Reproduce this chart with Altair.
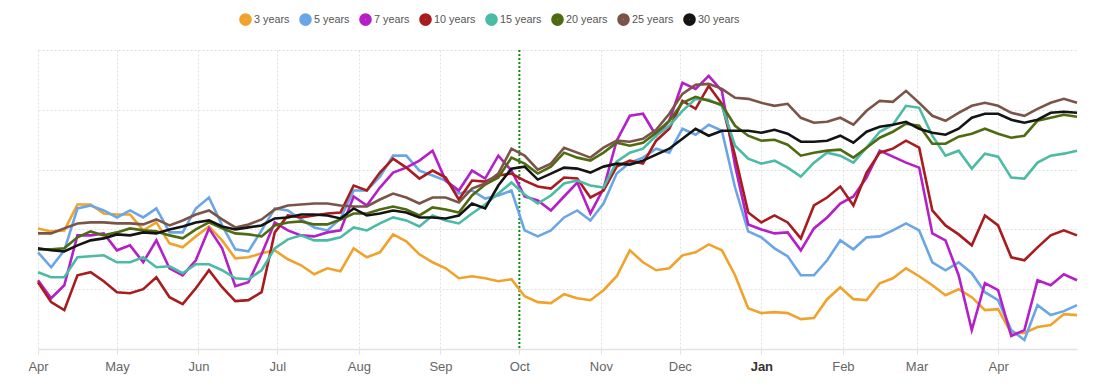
import altair as alt
import pandas as pd

# Sample dates (every 5 days from 1 Apr 2022)
dates = pd.date_range("2022-04-01", periods=80, freq="5D").strftime("%Y-%m-%d").tolist()

series_names = ["3 years", "5 years", "7 years", "10 years", "15 years", "20 years", "25 years", "30 years"]
series_colors = ["#F0A32C", "#6AA6E6", "#B41FC7", "#A81B1E", "#4BBBA5", "#4E6B12", "#7B5447", "#141414"]

month_ticks = [(2022, m) for m in range(4, 13)] + [(2023, m) for m in range(1, 5)]

y3 = [121,118,119,145,145,136,135,135,119,127, 106,102,113,123,109,91,92,96,99,90,
      84,75,81,78,101,92,97,115,108,95, 87,81,71,73,71,68,70,53,47,46,
      55,51,49,59,73,99,87,79,81,94, 97,105,99,74,41,36,37,36,30,31,
      50,62,50,49,66,71,81,73,64,54, 60,52,39,40,16,16,22,24,35,34]
y5 = [97,82,99,141,144,139,132,139,132,141, 117,117,141,152,124,100,98,119,141,139,
      130,122,119,131,159,159,173,194,194,179, 174,169,156,159,151,154,159,119,113,119,
      132,139,129,146,176,187,192,201,197,221, 215,225,219,162,118,112,101,93,74,74,
      89,109,100,112,113,119,126,119,87,79, 87,76,57,49,19,9,44,34,38,44]
y7 = [69,51,64,114,114,116,99,104,87,109, 81,74,89,121,101,63,67,95,127,119,
      114,113,117,119,153,144,162,177,182,189, 199,169,159,179,171,194,179,153,149,139,
      153,167,136,161,209,234,236,214,229,267, 261,274,259,184,125,120,116,117,99,121,
      132,146,153,172,199,193,187,182,116,109, 74,19,66,59,13,19,69,64,75,69]
y10 = [67,47,39,74,77,68,57,56,60,72, 52,45,61,79,62,48,49,57,117,134,
       132,134,136,137,164,159,177,191,182,171, 179,172,150,169,168,174,176,169,163,161,
       172,171,152,159,183,189,186,209,221,249, 241,264,246,194,137,127,134,127,111,144,
       152,163,144,177,197,201,209,202,139,124, 115,104,134,124,92,89,102,114,119,114]
y15 = [77,72,72,92,93,94,87,87,92,82, 83,76,85,85,79,71,70,79,101,110,
       114,109,109,112,122,119,126,132,129,123, 134,129,126,136,145,156,167,155,146,154,
       166,169,164,162,188,197,201,214,224,239, 251,250,244,204,191,186,189,182,173,187,
       197,194,187,202,218,225,244,242,214,194, 199,181,196,193,172,171,187,194,196,199]
y20 = [100,100,101,112,118,114,117,121,119,118, 114,111,120,127,121,116,115,113,124,127,
       128,125,125,130,136,136,140,143,140,134, 142,140,137,154,165,172,192,186,176,183,
       197,192,189,197,207,204,207,217,229,247, 253,249,245,224,214,209,210,205,194,197,
       199,200,192,202,212,218,226,224,206,206, 213,216,221,216,212,214,229,232,235,233]
y25 = [116,116,121,126,127,127,126,126,125,130, 124,129,135,139,130,122,125,130,140,144,
       145,146,146,144,143,143,150,156,152,146, 152,152,147,161,166,176,201,194,180,186,
       202,197,192,202,209,208,211,220,236,256, 265,266,261,252,251,247,244,246,232,227,
       228,232,225,239,249,248,259,247,234,229, 237,244,247,244,237,234,241,247,251,247]
y30 = [101,99,98,104,109,111,115,114,117,116, 120,123,127,129,123,120,122,124,131,132,
       135,135,134,131,141,134,136,139,137,132, 132,131,134,146,141,164,181,183,170,176,
       182,181,177,183,186,185,189,195,201,211, 221,214,219,219,219,217,220,216,208,208,
       209,214,207,218,223,225,228,221,217,215, 221,232,236,236,230,227,230,237,238,237]

marker_date = ["2022-10-01"]

all_series = [y3, y5, y7, y10, y15, y20, y25, y30]
rows = []
for idx, (name, vals) in enumerate(zip(series_names, all_series)):
    for d, v in zip(dates, vals):
        rows.append({"date": d, "series": name, "value": v, "order": idx})
df = pd.DataFrame(rows)

FONT = "Liberation Sans"
GRID = "#e0e0e0"

x_scale = alt.Scale(
    type="utc",
    domain=[alt.DateTime(year=2022, month=4, date=1, utc=True),
            alt.DateTime(year=2023, month=5, date=1, utc=True)],
)

x_axis = alt.Axis(
    title=None,
    format="%b",
    values=[alt.DateTime(year=yy, month=mm, date=1, utc=True) for yy, mm in month_ticks],
    grid=True,
    gridColor=GRID,
    gridDash=[2, 2],
    domainColor="#e2e2e2",
    domainWidth=1.5,
    tickColor="#e2e2e2",
    tickSize=5,
    labelAlign="center",
    labelFont=FONT,
    labelFontSize=13,
    labelPadding=6,
    labelColor={"condition": {"test": "utcmonth(datum.value) == 0", "value": "#333333"}, "value": "#666666"},
    labelFontWeight={"condition": {"test": "utcmonth(datum.value) == 0", "value": "bold"}, "value": "normal"},
)

y_axis = alt.Axis(
    title=None, labels=False, ticks=False, domain=False,
    values=[0, 60, 120, 180, 240, 300],
    grid=True, gridColor=GRID, gridDash=[2, 2],
)

lines = alt.Chart(df).mark_line(strokeWidth=2.6).encode(
    x=alt.X("date:T", scale=x_scale, axis=x_axis),
    y=alt.Y("value:Q", scale=alt.Scale(domain=[0, 300], nice=False, zero=False), axis=y_axis),
    color=alt.Color(
        "series:N",
        scale=alt.Scale(domain=series_names, range=series_colors),
        legend=alt.Legend(
            title=None,
            orient="none",
            direction="horizontal",
            columns=8,
            legendX=201,
            legendY=-37,
            symbolType="circle",
            symbolSize=44,
            symbolStrokeWidth=6,
            symbolOpacity=1,
            labelFont=FONT,
            labelFontSize=10.8,
            labelColor="#555555",
            labelOffset=2,
            columnPadding=0,
        ),
    ),
    order=alt.Order("order:Q"),
)

rule = alt.Chart(pd.DataFrame({"d": marker_date})).mark_rule(
    color="#108a10", strokeDash=[2, 2], strokeWidth=2
).encode(x=alt.X("d:T"))

chart = alt.layer(rule, lines).properties(
    width=1039,
    height=299,
    autosize=alt.AutoSizeParams(type="none"),
    padding={"left": 30, "top": 42, "right": 17, "bottom": 30},
).configure_view(stroke=None)

chart.save("out.html", embed_options={"renderer": "svg", "actions": False})
